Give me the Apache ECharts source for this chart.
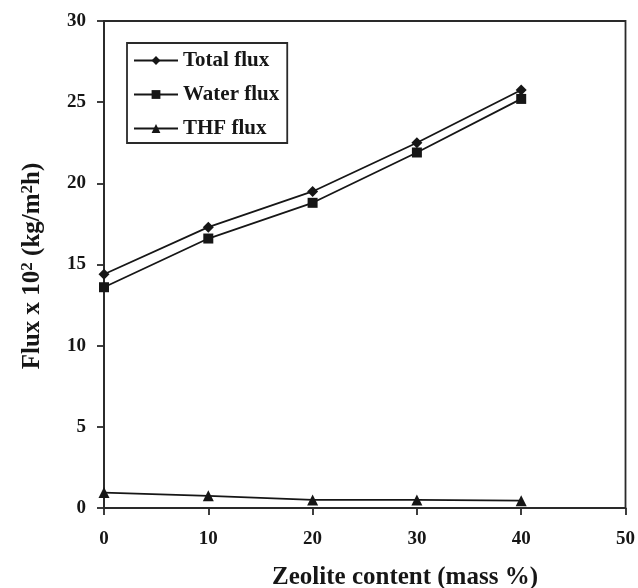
<!DOCTYPE html>
<html>
<head>
<meta charset="utf-8">
<script src="https://cdn.jsdelivr.net/npm/echarts@6/dist/echarts.min.js"></script>
<style>
  html, body { margin: 0; padding: 0; background: #fff; }
  #chart { width: 638px; height: 588px; }
</style>
</head>
<body>
<div id="chart"></div>
<script>
// Zeolite loading (mass %) and measured fluxes (x 10^2 kg/m^2 h)
const zeoliteContent = [0, 10, 20, 30, 40];
const totalFlux = [14.4, 17.3, 19.5, 22.5, 25.75];
const waterFlux = [13.6, 16.6, 18.8, 21.9, 25.2];
const thfFlux = [0.95, 0.75, 0.5, 0.5, 0.45];
const seriesNames = ['Total flux', 'Water flux', 'THF flux'];

const font = '"Liberation Serif", "Times New Roman", serif';
const ink = '#161616';
const pairs = (xs, ys) => xs.map((x, i) => [x, ys[i]]);

const chart = echarts.init(document.getElementById('chart'));

const lineSeries = (name, values, symbol, size) => ({
  name,
  type: 'line',
  data: pairs(zeoliteContent, values),
  symbol,
  symbolSize: size,
  lineStyle: { color: ink, width: 1.8 },
  itemStyle: { color: ink },
  emphasis: { disabled: true }
});

const axisLine = { lineStyle: { color: '#2a2a2a', width: 1.8 } };
const tickLabel = { fontFamily: font, fontWeight: 'bold', fontSize: 19, color: ink };

chart.setOption({
  animation: false,
  backgroundColor: '#fff',
  grid: { left: 104, top: 21, right: 10, bottom: 80, show: true, borderColor: '#2a2a2a', borderWidth: 1.8, backgroundColor: 'transparent' },
  legend: {
    data: seriesNames,
    orient: 'vertical',
    left: 127,
    top: 43,
    padding: [7, 8, 4, 6],
    itemWidth: 44,
    itemHeight: 11,
    itemGap: 13,
    borderColor: '#2a2a2a',
    borderWidth: 1.8,
    backgroundColor: '#fff',
    textStyle: { fontFamily: font, fontWeight: 'bold', fontSize: 21, color: ink }
  },
  xAxis: {
    type: 'value',
    min: 0, max: 50, interval: 10,
    axisLine: Object.assign({ onZero: false }, axisLine),
    axisTick: { show: true, inside: false, length: 7, lineStyle: { color: '#2a2a2a', width: 1.8 } },
    splitLine: { show: false },
    axisLabel: Object.assign({ margin: 22 }, tickLabel)
  },
  yAxis: {
    type: 'value',
    min: 0, max: 30, interval: 5,
    axisLine: Object.assign({ show: true }, axisLine),
    axisTick: { show: true, inside: false, length: 7, lineStyle: { color: '#2a2a2a', width: 1.8 } },
    splitLine: { show: false },
    axisLabel: Object.assign({ margin: 18 }, tickLabel)
  },
  graphic: [
    {
      type: 'text',
      x: 405,
      y: 578,
      style: {
        text: 'Zeolite content (mass %)',
        fontFamily: font, fontWeight: 'bold', fontSize: 25, fill: ink,
        textAlign: 'center', textVerticalAlign: 'middle'
      }
    },
    {
      type: 'text',
      x: 33,
      y: 266,
      rotation: Math.PI / 2,
      style: {
        text: '{b|Flux x 10}{s|2}{b| (kg/m}{s|2}{b|h)}',
        textAlign: 'center', textVerticalAlign: 'middle',
        rich: {
          b: { fontFamily: font, fontWeight: 'bold', fontSize: 25, fill: ink, color: ink },
          s: { fontFamily: font, fontWeight: 'bold', fontSize: 17, fill: ink, color: ink, verticalAlign: 'top', padding: [0, 0, 10, 0] }
        }
      }
    }
  ],
  series: [
    lineSeries(seriesNames[0], totalFlux, 'diamond', 11),
    lineSeries(seriesNames[1], waterFlux, 'rect', 10),
    lineSeries(seriesNames[2], thfFlux, 'triangle', 11)
  ]
});
</script>
</body>
</html>
